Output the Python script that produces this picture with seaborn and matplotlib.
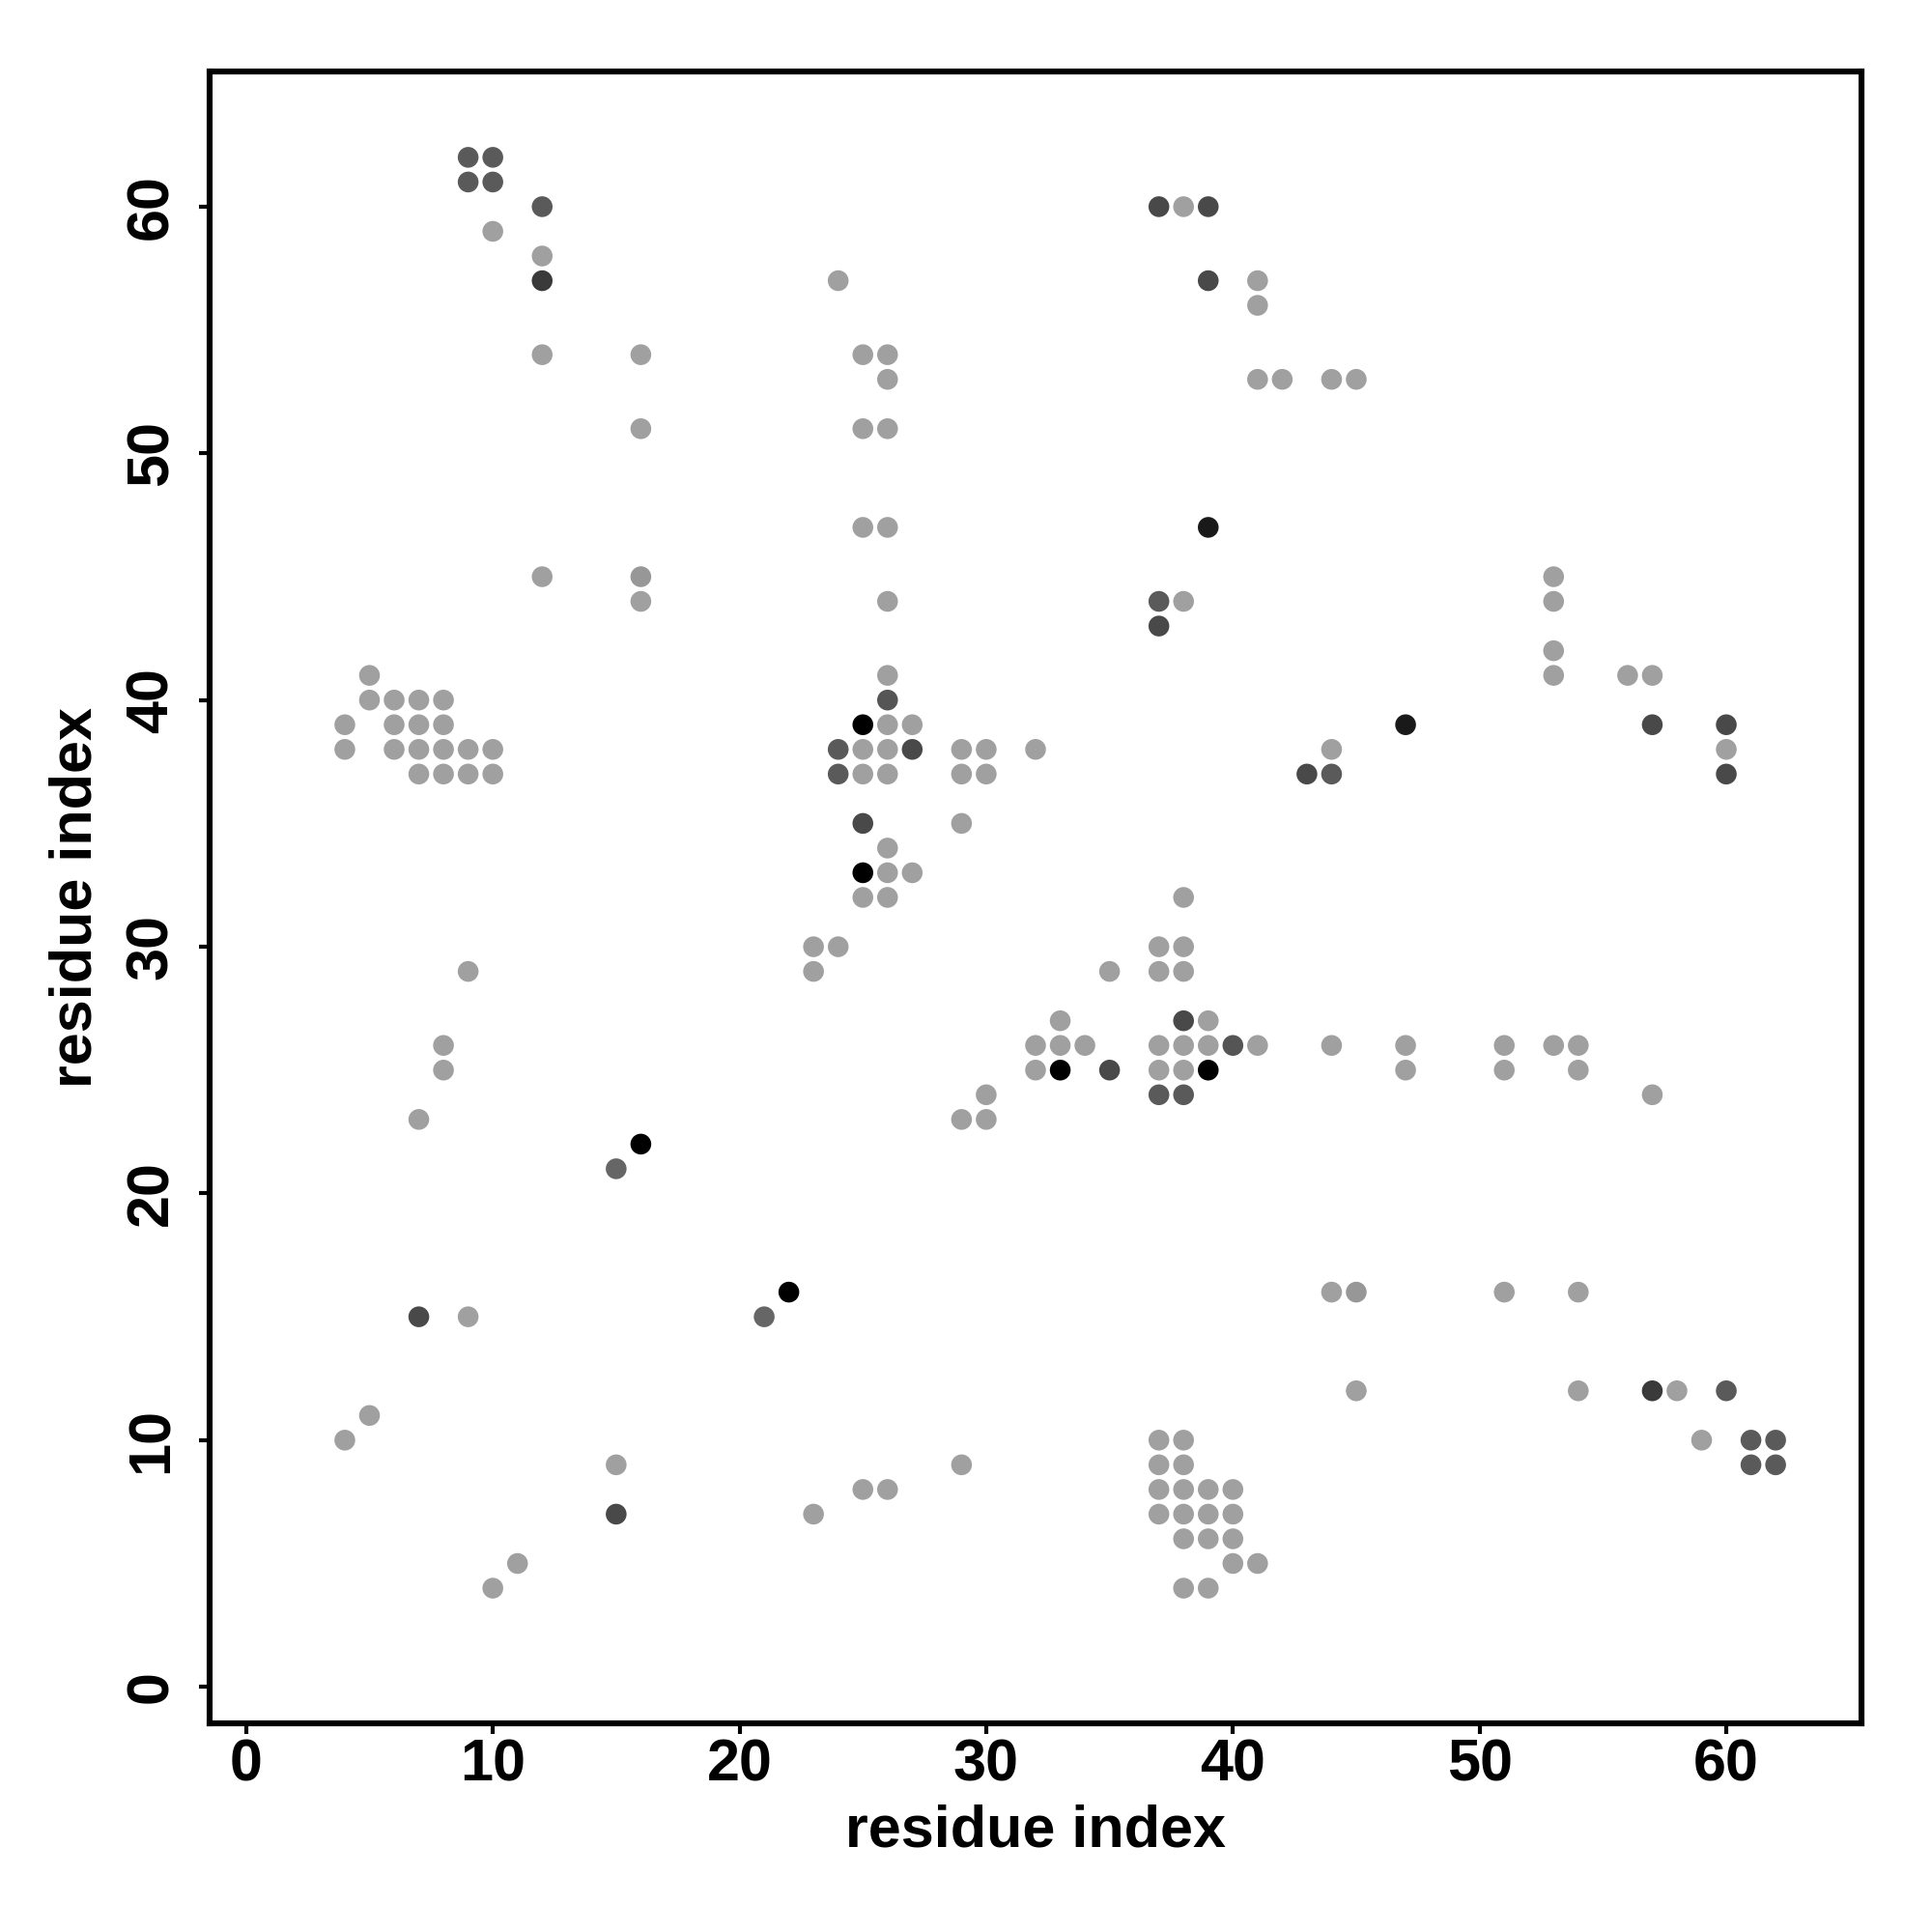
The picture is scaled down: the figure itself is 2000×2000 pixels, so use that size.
import pandas as pd
import seaborn as sns
import matplotlib.pyplot as plt
from matplotlib.colors import LinearSegmentedColormap

# Predicted contacts (upper triangle, i < j) with a confidence score 0..1
# the map is symmetric, so the lower triangle is the same list transposed
contacts = [
    (9, 62, 0.44), (10, 62, 0.44), (9, 61, 0.44), (10, 61, 0.44),
    (12, 60, 0.44), (37, 60, 0.54), (38, 60, 0.0), (39, 60, 0.54),
    (10, 59, 0.0), (12, 58, 0.0),
    (12, 57, 0.64), (24, 57, 0.0), (39, 57, 0.54), (41, 57, 0.0),
    (41, 56, 0.0),
    (12, 54, 0.0), (16, 54, 0.0), (25, 54, 0.0), (26, 54, 0.0),
    (26, 53, 0.0), (41, 53, 0.0), (42, 53, 0.0), (44, 53, 0.0), (45, 53, 0.0),
    (16, 51, 0.0), (25, 51, 0.0), (26, 51, 0.0),
    (25, 47, 0.0), (26, 47, 0.0), (39, 47, 0.84),
    (12, 45, 0.0), (16, 45, 0.06),
    (16, 44, 0.0), (26, 44, 0.0), (37, 44, 0.44), (38, 44, 0.0),
    (37, 43, 0.54),
    (5, 41, 0.0), (26, 41, 0.0),
    (5, 40, 0.0), (6, 40, 0.0), (7, 40, 0.0), (8, 40, 0.0), (26, 40, 0.47),
    (4, 39, 0.0), (6, 39, 0.0), (7, 39, 0.0), (8, 39, 0.0),
    (25, 39, 1.0), (26, 39, 0.0), (27, 39, 0.0),
    (4, 38, 0.0), (6, 38, 0.0), (7, 38, 0.0), (8, 38, 0.0), (9, 38, 0.0),
    (10, 38, 0.0), (24, 38, 0.44), (25, 38, 0.0), (26, 38, 0.0),
    (27, 38, 0.54), (29, 38, 0.0), (30, 38, 0.0), (32, 38, 0.0),
    (7, 37, 0.0), (8, 37, 0.0), (9, 37, 0.0), (10, 37, 0.0), (24, 37, 0.44),
    (25, 37, 0.0), (26, 37, 0.0), (29, 37, 0.0), (30, 37, 0.0),
    (25, 35, 0.54), (29, 35, 0.0),
    (26, 34, 0.0),
    (25, 33, 1.0), (26, 33, 0.0), (27, 33, 0.0),
    (25, 32, 0.0), (26, 32, 0.0),
    (23, 30, 0.0), (24, 30, 0.0),
    (9, 29, 0.0), (23, 29, 0.0),
    (8, 26, 0.0), (8, 25, 0.0), (7, 23, 0.0),
    (16, 22, 1.0), (15, 21, 0.36),
    (7, 15, 0.54), (9, 15, 0.0),
    (5, 11, 0.0), (4, 10, 0.0),
]

ticks = [0, 10, 20, 30, 40, 50, 60]
axis_label = "residue index"

upper = pd.DataFrame(contacts, columns=["i", "j", "score"])
lower = upper.rename(columns={"i": "j", "j": "i"})
df = pd.concat([upper, lower], ignore_index=True)

sns.set_theme(style="white")
plt.rcParams["font.family"] = ["Liberation Sans", "DejaVu Sans"]
plt.rcParams["text.color"] = "black"
plt.rcParams["axes.labelcolor"] = "black"
plt.rcParams["xtick.color"] = "black"
plt.rcParams["ytick.color"] = "black"

fig = plt.figure(figsize=(10, 10), dpi=200)
ax = fig.add_axes([0.1085, 0.108, 0.855, 0.855])

cmap = LinearSegmentedColormap.from_list("contact", ["#a0a0a0", "#000000"])
sns.scatterplot(data=df, x="i", y="j", hue="score", palette=cmap,
                hue_norm=(0, 1), s=60, linewidth=0, legend=False, ax=ax)

ax.set_xlim(-1.48, 65.48)
ax.set_ylim(-1.48, 65.48)
ax.set_xticks(ticks)
ax.set_yticks(ticks)
ax.set_xticklabels(ticks, fontsize=22, fontweight="bold")
ax.set_yticklabels(ticks, fontsize=22, fontweight="bold", rotation=90, va="center")
ax.tick_params(axis="both", direction="out", length=4, width=1.5, color="black",
               bottom=True, left=True)
ax.tick_params(axis="x", pad=1.5)
ax.tick_params(axis="y", pad=7)

ax.set_xlabel(axis_label, fontsize=22, fontweight="bold", labelpad=4)
ax.set_ylabel(axis_label, fontsize=22, fontweight="bold", labelpad=8)

for sp in ax.spines.values():
    sp.set_visible(True)
    sp.set_color("black")
    sp.set_linewidth(2.2)

fig.savefig("out.png", dpi=200, facecolor="white")
